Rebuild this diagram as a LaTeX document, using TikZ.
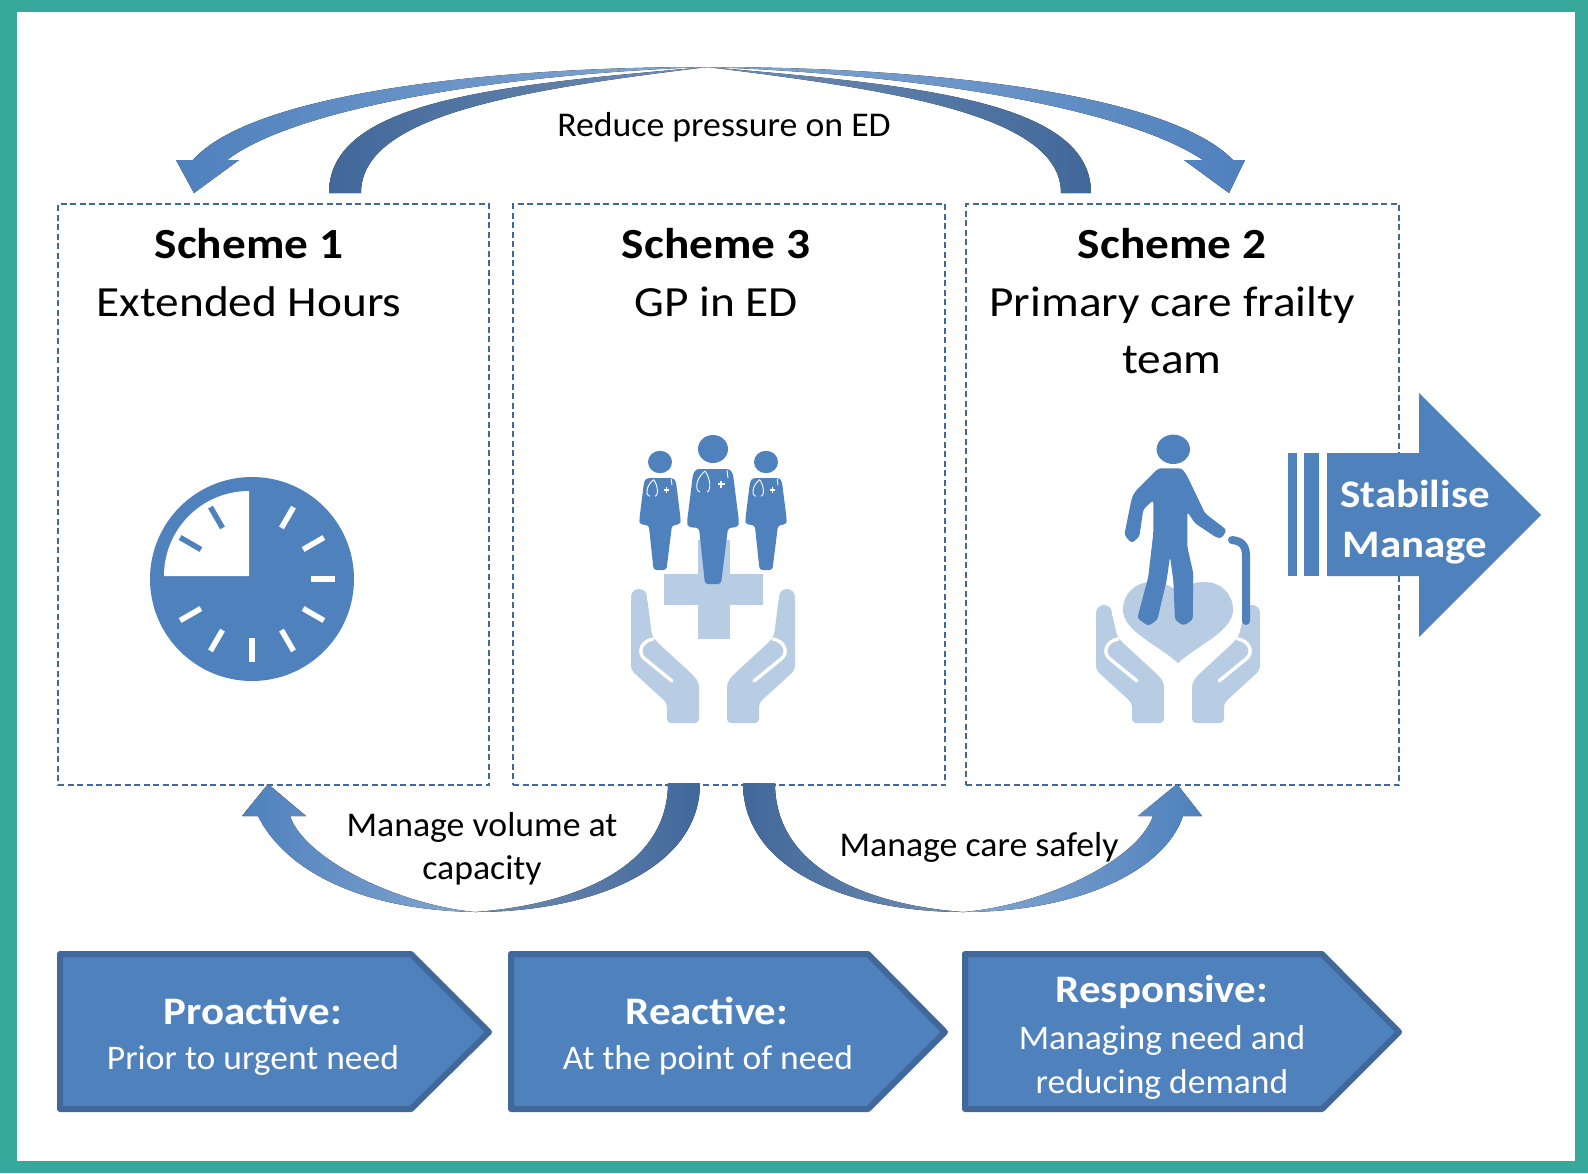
\documentclass[tikz,border=0pt]{standalone}
\usepackage{fontspec}
\setmainfont[FakeStretch=1.03]{Carlito}
\newfontfamily\headfont[FakeStretch=1.1]{Carlito}
\usepackage{tikz}
\usetikzlibrary{shapes,arrows,positioning,calc}
\definecolor{framecol}{HTML}{36A99C}
\definecolor{mainblue}{HTML}{4F81BD}
\definecolor{darkblue}{HTML}{41689A}
\definecolor{paleblue}{HTML}{B8CCE4}
\tikzset{
schemebox/.style = {draw=darkblue, dash pattern=on 6pt off 3.5pt, line width=1.3pt, rectangle, inner sep=0pt},
schemehead/.style = {inner sep=0pt, align=center, font=\fontsize{43}{56}\headfont\bfseries\selectfont},
schemetext/.style = {inner sep=0pt, align=center, font=\fontsize{43}{57}\headfont\selectfont},
arclabel/.style = {inner sep=0pt, align=center, font=\fontsize{34.7}{43}\selectfont},
chevron/.style = {draw=darkblue, fill=mainblue, line width=6pt, line join=round},
chevhead/.style = {inner sep=0pt, text=white, font=\fontsize{39}{46}\headfont\bfseries\selectfont},
chevtext/.style = {inner sep=0pt, align=center, text=white, font=\fontsize{34.5}{44}\selectfont},
stabtext/.style = {inner sep=0pt, text=white, font=\fontsize{39}{46}\headfont\bfseries\selectfont},
clocktick/.style = {line width=5.5pt},
lightarc/.style = {left color=mainblue, middle color=mainblue, right color=mainblue!70},
lightarcr/.style = {right color=mainblue, middle color=mainblue, left color=mainblue!70},
darkarc/.style = {left color=darkblue, middle color=darkblue, right color=darkblue!75},
darkarcr/.style = {right color=darkblue, middle color=darkblue, left color=darkblue!75},
nurse/.pic = {
  \fill[mainblue] (0,0) ellipse (15 and 14);
  \fill[mainblue, rounded corners=3pt] (-17,20) -- (17,20) -- (20,25) -- (26,73) -- (25,78) -- (15,79)
    -- (8,135) -- (-8,135) -- (-14,79) -- (-25,78) -- (-26,73) -- (-20,25) -- cycle;
  \draw[white, line width=.9pt] (-8,22) .. controls (-18,30) and (-18,42) .. (-13,43);
  \draw[white, line width=.9pt] (-8,22) .. controls (-2,30) and (-2,42) .. (-6,43);
  \draw[white, line width=.9pt] (14,21) -- (15,29);
  \draw[white, line width=1.4pt] (4.5,35) -- (11.5,35) (8,31.5) -- (8,38.5);
}
}
% one hand, origin on the axis at the wrist line, #1 = height of the thumb
\newcommand{\carehand}[1]{
  \fill[paleblue, rounded corners=4pt] (-82,#1+4) -- (-82,#1) -- (-66,#1) -- (-61,-87) -- (-56,-81) -- (-19,-47)
    -- (-14,-40) -- (-14,0) -- (-46,0) -- (-46,-20) -- (-82,-53) -- cycle;
  \fill[paleblue] (-74,#1) circle (8);
  \draw[white, line width=3.4pt, line cap=round] (-60,-84) .. controls (-72,-82) and (-76,-70) .. (-68,-64) -- (-41,-42);
}

\begin{document}
\begin{tikzpicture}[x=1pt,y=-1pt,>=latex']
   \useasboundingbox (0,0) rectangle (1588,1173);
   \fill[framecol] (0,0) rectangle (1588,1173);
   \fill[white] (17,12) rectangle (1575,1161);

   % scheme boxes
   \node [schemebox, minimum width=431, minimum height=581] (box1) at (273.5,494.5) {};
   \node [schemebox, minimum width=432, minimum height=581] (box3) at (729,494.5) {};
   \node [schemebox, minimum width=433, minimum height=581] (box2) at (1182.5,494.5) {};

   \node [schemehead] (head1) at (249,244) {Scheme 1};
   \node [schemetext] (text1) at (249,302) {Extended Hours};
   \node [schemehead] (head3) at (716,244) {Scheme 3};
   \node [schemetext] (text3) at (716,302) {GP in ED};
   \node [schemehead] (head2) at (1172,244) {Scheme 2};
   \node [schemetext, below=42pt of head2.center, anchor=north] (text2) {Primary care frailty\\team};

   % arcs on top
   \coordinate (topmid) at (707,67);
   \coordinate (topL) at (194,193);
   \coordinate (topR) at (1229,193);
   \fill[lightarc] (topmid) .. controls (480,67) and (250,95) .. (193,160) -- (176,160) -- (topL)
     -- (239,160) -- (227,160) .. controls (295,108) and (500,74) .. (topmid) -- cycle;
   \fill[lightarcr] (topmid) .. controls (940,67) and (1170,95) .. (1233,160) -- (1245,160) -- (topR)
     -- (1184,160) -- (1203,160) .. controls (1125,108) and (920,74) .. (topmid) -- cycle;
   \fill[darkarc] (topmid) .. controls (500,85) and (329,100) .. (329,193) -- (361,193)
     .. controls (361,115) and (520,90) .. (topmid) -- cycle;
   \fill[darkarcr] (topmid) .. controls (914,85) and (1091,100) .. (1091,193) -- (1061,193)
     .. controls (1061,115) and (894,90) .. (topmid) -- cycle;
   \node [arclabel] (reduce) at (724,127) {Reduce pressure on ED};

   % arcs below
   \coordinate (lowL) at (475,912);
   \coordinate (lowR) at (963,912);
   \coordinate (tipL) at (268,784);
   \coordinate (tipR) at (1177,784);
   \fill[lightarc] (lowL) .. controls (360,910) and (285,870) .. (258,816) -- (242,816) -- (tipL)
     -- (306,816) -- (290,816) .. controls (305,860) and (400,905) .. (lowL) -- cycle;
   \fill[darkarcr] (lowL) .. controls (590,912) and (700,870) .. (700,783) -- (668,783)
     .. controls (668,870) and (570,905) .. (lowL) -- cycle;
   \fill[darkarc] (lowR) .. controls (850,912) and (743,870) .. (743,783) -- (775,783)
     .. controls (775,870) and (870,905) .. (lowR) -- cycle;
   \fill[lightarcr] (lowR) .. controls (1080,912) and (1165,870) .. (1183,816) -- (1202,816) -- (tipR)
     -- (1138,816) -- (1153,816) .. controls (1138,860) and (1045,905) .. (lowR) -- cycle;
   \node [arclabel] (volume) at (482,849) {Manage volume at\\capacity};
   \node [arclabel] (safely) at (979,847) {Manage care safely};

   % clock
   \fill[mainblue] (252,579) circle (102);
   \fill[white] (249,576) -- (249,491) arc[start angle=-90, end angle=-180, radius=85] -- cycle;
   \foreach \a in {0,30,60,-30,-60,-90,-120,-150}
     \draw[clocktick, white] ($(252,579)+({59*cos(\a)},{-59*sin(\a)})$) -- ($(252,579)+({83*cos(\a)},{-83*sin(\a)})$);
   \foreach \a in {120,150}
     \draw[clocktick, mainblue] ($(252,579)+({59*cos(\a)},{-59*sin(\a)})$) -- ($(252,579)+({83*cos(\a)},{-83*sin(\a)})$);

   % doctors
   \fill[paleblue] (698,540) rectangle (730,639);
   \fill[paleblue] (664,574) rectangle (763,605);
   \begin{scope}[shift={(713,723)}]
     \carehand{-126}
     \begin{scope}[xscale=-1]
       \carehand{-126}
     \end{scope}
   \end{scope}
   \pic at (713,449) {nurse};
   \pic[scale=.8] at (660,462) {nurse};
   \pic[scale=.8] at (766,462) {nurse};

   % elderly person
   \begin{scope}[shift={(1178,723)}]
     \carehand{-110}
     \begin{scope}[xscale=-1]
       \carehand{-110}
     \end{scope}
     \fill[paleblue] (0,-60) .. controls (-20,-78) and (-55,-92) .. (-55,-113) .. controls (-55,-130) and (-42,-141) .. (-27,-141)
       .. controls (-14,-141) and (-6,-137) .. (0,-130) .. controls (6,-137) and (14,-141) .. (27,-141)
       .. controls (42,-141) and (55,-130) .. (55,-113) .. controls (55,-92) and (20,-78) .. (0,-60) -- cycle;
   \end{scope}
   \fill[mainblue] (1173.3,449.3) ellipse (16.7 and 14.7);
   \fill[mainblue, rounded corners=3pt] (1158.3,468.3) -- (1181.7,468.3) -- (1186.7,475) -- (1205,513.3) -- (1226.7,530)
     -- (1221.7,538.3) -- (1216.7,537.7) -- (1195,523.3) -- (1187.3,511.7) -- (1187.3,546.7) -- (1193.3,573.3)
     -- (1192.7,620) -- (1183.3,625.7) -- (1175,620) -- (1173.3,580) -- (1170,556.7) -- (1166.7,580) -- (1157.3,620)
     -- (1148.3,626) -- (1137.3,618.3) -- (1148.3,576.7) -- (1153.3,533.3) -- (1153.3,500) -- (1143.3,509.3)
     -- (1139.3,536.7) -- (1131.7,543.3) -- (1124.3,535) -- (1131.7,498.3) -- (1135,491.7) -- cycle;
   \draw[mainblue, line width=8pt, line cap=round] (1232,540) .. controls (1242,541) and (1246,546) .. (1246,556) -- (1246,621);

   % stabilise arrow
   \fill[mainblue] (1288,453) rectangle (1297,576);
   \fill[mainblue] (1304,453) rectangle (1319,576);
   \fill[mainblue] (1327,453) -- (1419,453) -- (1419,393) -- (1541,515) -- (1419,637) -- (1419,576) -- (1327,576) -- cycle;
   \node [stabtext] (stab) at (1415,494) {Stabilise};
   \node [stabtext] (manage) at (1415,548) {Manage};

   % chevrons
   \draw[chevron] (60,954) -- (411,954) -- (489,1032) -- (411,1109) -- (60,1109) -- cycle;
   \draw[chevron] (511,954) -- (868,954) -- (945,1032) -- (868,1109) -- (511,1109) -- cycle;
   \draw[chevron] (965,954) -- (1322,954) -- (1399,1032) -- (1322,1109) -- (965,1109) -- cycle;
   \node [chevhead] (pro) at (253,1011) {Proactive:};
   \node [chevtext] (protext) at (253,1060) {Prior to urgent need};
   \node [chevhead] (rea) at (707,1011) {Reactive:};
   \node [chevtext] (reatext) at (708,1060) {At the point of need};
   \node [chevhead] (res) at (1162,992) {Responsive:};
   \node [chevtext] (restext) at (1162,1062) {Managing need and\\reducing demand};
\end{tikzpicture}
\end{document}
